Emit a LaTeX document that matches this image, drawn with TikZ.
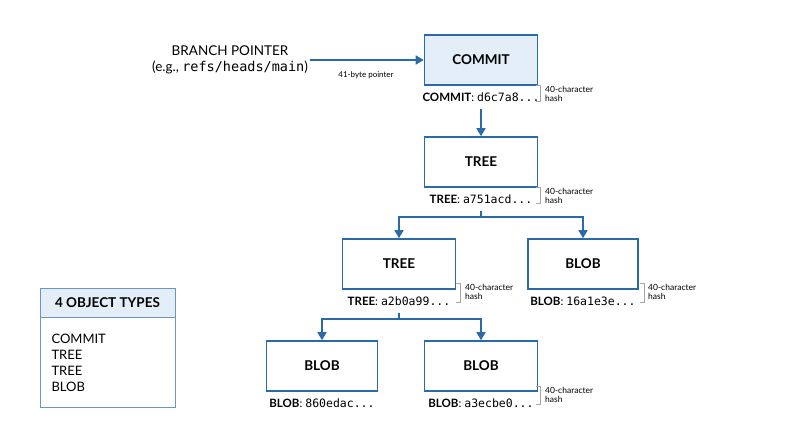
\documentclass[tikz,border=0pt]{standalone}
\usepackage{fontspec}
\setmainfont{Lato}
\setmonofont{DejaVu Sans Mono}
\usetikzlibrary{arrows.meta}
\definecolor{gitblue}{HTML}{2A6AA8}
\definecolor{gitfill}{HTML}{E3EEF8}
\tikzset{
  obj/.style={draw=gitblue, line width=1.6pt, minimum width=113pt, minimum height=50pt,
    font=\fontsize{13.5}{15}\selectfont\bfseries},
  hashlbl/.style={font=\fontsize{11.5}{13}\selectfont, anchor=base},
  note/.style={font=\fontsize{8.5}{9.5}\selectfont, align=left, anchor=north west, inner sep=0pt},
  brk/.style={draw=gray!70, line width=0.6pt},
  link/.style={draw=gitblue, line width=1.6pt, -{Triangle[length=8pt,width=9pt]}},
}
\begin{document}
\begin{tikzpicture}[x=1pt, y=-1pt]
\useasboundingbox (0,0) rectangle (800,447);

% objects
\node[obj, fill=gitfill] (commit) at (481,60) {COMMIT};
\node[obj] (tree) at (481,162) {TREE};
\node[obj] (subtree) at (399,264) {TREE};
\node[obj, minimum width=110pt] (blobr) at (583,264) {BLOB};
\node[obj, minimum width=111pt] (bloba) at (322,366) {BLOB};
\node[obj] (blobb) at (481,366) {BLOB};

% hash labels
\node[hashlbl] (hcommit) at (481,101) {\textbf{COMMIT}: \texttt{d6c7a8...}};
\node[hashlbl] (htree) at (481,203) {\textbf{TREE}: \texttt{a751acd...}};
\node[hashlbl] (hsubtree) at (399,305) {\textbf{TREE}: \texttt{a2b0a99...}};
\node[hashlbl] (hblobr) at (583,305) {\textbf{BLOB}: \texttt{16a1e3e...}};
\node[hashlbl] (hbloba) at (322,407) {\textbf{BLOB}: \texttt{860edac...}};
\node[hashlbl] (hblobb) at (481,407) {\textbf{BLOB}: \texttt{a3ecbe0...}};

% 40-character brackets
\draw[brk] (536,85) -- (540,85) -- (540,101) -- (536,101);
\node[note] (n1) at (545,86) {40-character\\hash};
\draw[brk] (536,187) -- (540,187) -- (540,203) -- (536,203);
\node[note] (n2) at (545,188) {40-character\\hash};
\draw[brk] (456,283) -- (460,283) -- (460,302) -- (456,302);
\node[note] (n3) at (465,284) {40-character\\hash};
\draw[brk] (640,283) -- (644,283) -- (644,302) -- (640,302);
\node[note] (n4) at (648,284) {40-character\\hash};
\draw[brk] (536,386) -- (540,386) -- (540,404) -- (536,404);
\node[note] (n5) at (545,387) {40-character\\hash};

% branch pointer
\node[align=center, font=\fontsize{13.5}{16}\selectfont] (branch) at (230,60)
  {BRANCH POINTER\\(e.g., \texttt{refs/heads/main})};
\coordinate (bstart) at (310,60);
\draw[link] (bstart) -- (commit.west);
\node[font=\fontsize{8}{9}\selectfont] (bytes) at (366,75) {41-byte pointer};

% links
\draw[link] ([yshift=-4pt]hcommit.south) -- (tree.north);
\coordinate (split1) at (481,217);
\coordinate (split2) at (399,319);
\draw[gitblue, line width=1.6pt] ([yshift=-4pt]htree.south) -- (split1);
\draw[link] (split1) -| (subtree.north);
\draw[link] (split1) -| (blobr.north);
\draw[gitblue, line width=1.6pt] ([yshift=-4pt]hsubtree.south) -- (split2);
\draw[link] (split2) -| (bloba.north);
\draw[link] (split2) -| (blobb.north);

% legend
\node[draw=gitblue!70, line width=0.8pt, fill=gitfill, minimum width=135pt, minimum height=29pt,
  font=\fontsize{13.5}{15}\selectfont\bfseries] (legendhead) at (107.5,302.5) {4 OBJECT TYPES};
\node[draw=gitblue!70, line width=0.8pt, minimum width=135pt, minimum height=90pt, anchor=north,
  align=left, font=\fontsize{13}{16}\selectfont, text width=112pt] (legendbody) at (legendhead.south)
  {COMMIT\\TREE\\TREE\\BLOB};
\end{tikzpicture}
\end{document}
